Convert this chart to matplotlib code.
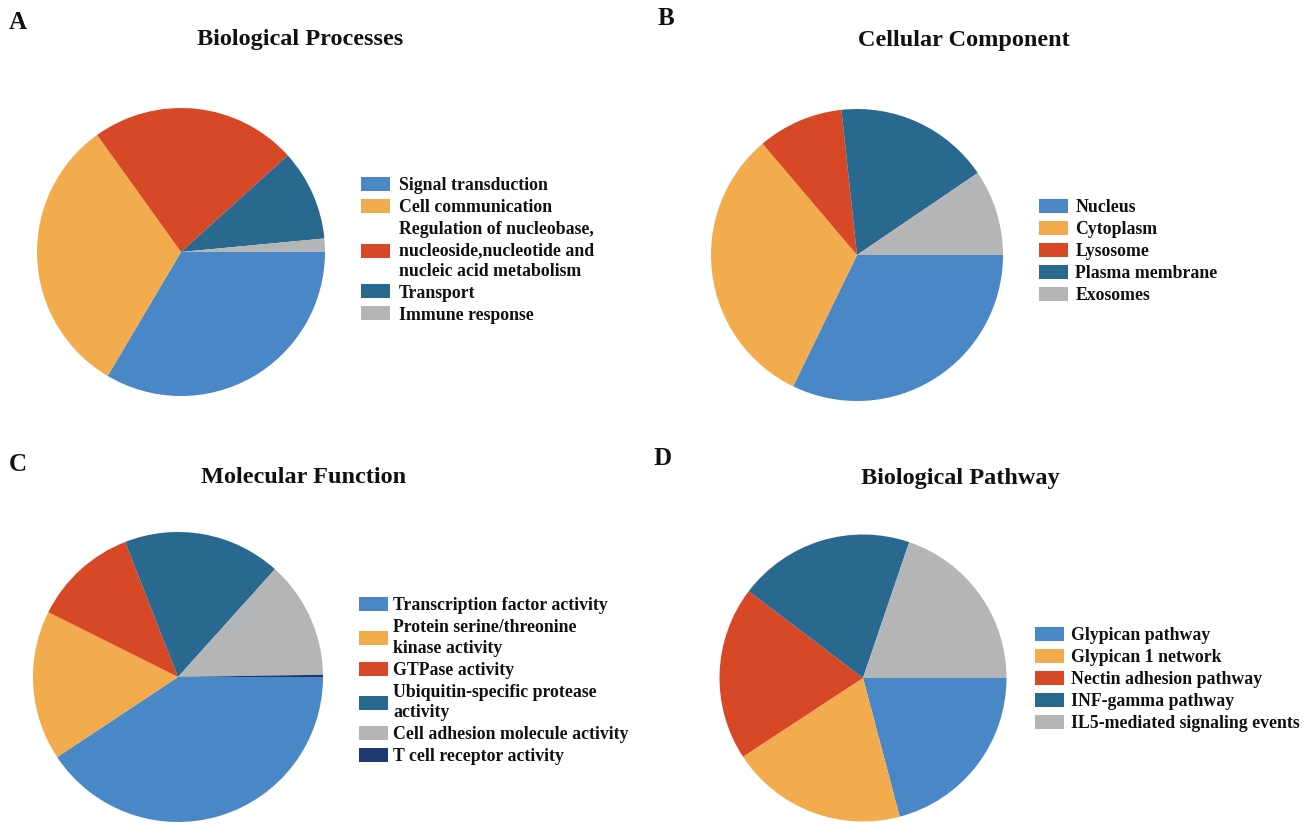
import matplotlib
matplotlib.use("Agg")
import matplotlib.pyplot as plt
from matplotlib.patches import Patch

W, H = 1314, 825

# slice colours shared by all four pies
blue = "#4a87c7"
orange = "#f2ab4d"
red = "#d64826"
dark_blue = "#29688f"
grey = "#b4b5b7"
navy = "#1e3a6e"

bp_labels = ["Signal transduction", "Cell communication",
             "Regulation of nucleobase,\nnucleoside,nucleotide and\nnucleic acid metabolism",
             "Transport", "Immune response"]
bp_values = [33.5, 31.6, 23.2, 10.2, 1.5]
bp_colors = [blue, orange, red, dark_blue, grey]

cc_labels = ["Nucleus", "Cytoplasm", "Lysosome", "Plasma membrane", "Exosomes"]
cc_values = [32.2, 31.6, 9.5, 17.2, 9.5]
cc_colors = [blue, orange, red, dark_blue, grey]

mf_labels = ["Transcription factor activity", "Protein serine/threonine\nkinase activity",
             "GTPase activity", "Ubiquitin-specific protease\nactivity",
             "Cell adhesion molecule activity", "T cell receptor activity"]
mf_values = [40.7, 16.7, 11.7, 17.6, 13.1, 0.25]
mf_colors = [blue, orange, red, dark_blue, grey, navy]

pw_labels = ["Glypican pathway", "Glypican 1 network", "Nectin adhesion pathway",
             "INF-gamma pathway", "IL5-mediated signaling events"]
pw_values = [20.9, 19.9, 19.6, 19.9, 19.8]
pw_colors = [blue, orange, red, dark_blue, grey]

font = "Liberation Serif"
plt.rcParams["font.family"] = font
plt.rcParams["font.weight"] = "bold"

fig = plt.figure(figsize=(W / 100, H / 100), dpi=100)


def fx(x):
    return x / W


def fy(y):
    return 1 - y / H


def panel(letter, letter_xy, title, title_xy, center, radius,
          values, colors, labels, legend_xy, textpad):
    cx, cy = center
    ax = fig.add_axes([fx(cx - radius), fy(cy + radius), 2 * radius / W, 2 * radius / H])
    ax.pie(values, colors=colors, startangle=0, counterclock=False,
           wedgeprops=dict(linewidth=0))
    ax.set_xlim(-1, 1)
    ax.set_ylim(-1, 1)
    ax.set_aspect("equal")
    ax.axis("off")

    # letter and title positions are given as (x centre, baseline)
    fig.text(fx(letter_xy[0]), fy(letter_xy[1]), letter, fontsize=18,
             ha="center", va="baseline", color="#111111")
    fig.text(fx(title_xy[0]), fy(title_xy[1]), title, fontsize=17.5,
             ha="center", va="baseline", color="#111111")

    handles = [Patch(facecolor=c, edgecolor="none") for c in colors]
    leg = fig.legend(handles, labels, loc="upper left",
                     bbox_to_anchor=(fx(legend_xy[0]), fy(legend_xy[1])),
                     bbox_transform=fig.transFigure, frameon=False,
                     prop=dict(family=font, weight="bold", size=12.8),
                     handlelength=1.63, handleheight=0.84,
                     handletextpad=textpad, labelspacing=0.27,
                     borderpad=0, borderaxespad=0)
    for t in leg.get_texts():
        t.set_color("#111111")
        t.set_linespacing(1.29)


panel("A", (17.5, 29), "Biological Processes", (300, 45.5), (181, 252), 144,
      bp_values, bp_colors, bp_labels, (361, 177), 0.5)
panel("B", (666.5, 25), "Cellular Component", (964, 46), (857, 255), 146,
      cc_values, cc_colors, cc_labels, (1039, 199), 0.41)
panel("C", (18, 471), "Molecular Function", (304, 483), (178, 677), 145,
      mf_values, mf_colors, mf_labels, (359, 597), 0.3)
panel("D", (663, 465), "Biological Pathway", (960, 484), (863, 678), 143.5,
      pw_values, pw_colors, pw_labels, (1035, 627), 0.42)

fig.savefig("out.png", dpi=100)
